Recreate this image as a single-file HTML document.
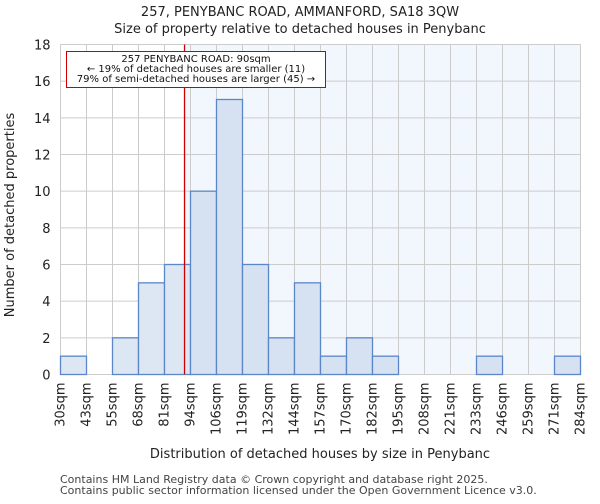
<!DOCTYPE html>
<html><head><meta charset="utf-8"><style>
body{margin:0;background:#fff;font-family:"DejaVu Sans","Liberation Sans",sans-serif;}
text{font-family:"DejaVu Sans","Liberation Sans",sans-serif;}
</style></head><body>
<svg id="chart" width="600" height="500" xmlns="http://www.w3.org/2000/svg"></svg>
<script>
const categories=["30sqm","43sqm","55sqm","68sqm","81sqm","94sqm","106sqm","119sqm","132sqm","144sqm","157sqm","170sqm","182sqm","195sqm","208sqm","221sqm","233sqm","246sqm","259sqm","271sqm","284sqm"];
const counts=[1,0,2,5,6,10,15,6,2,5,1,2,1,0,0,0,1,0,0,1];
const yTicks=[0,2,4,6,8,10,12,14,16,18];
const markerBin=4.77;
const NS="http://www.w3.org/2000/svg";
const svg=document.getElementById('chart');
const L=60.5,R=580.5,T=44.5,B=374.5,ymax=18;
const bw=(R-L)/counts.length;
const x=i=>L+i*bw;
const y=v=>B-(B-T)*v/ymax;
function el(tag,attrs,txt){const e=document.createElementNS(NS,tag);for(const k in attrs)e.setAttribute(k,attrs[k]);if(txt!==undefined)e.textContent=txt;svg.appendChild(e);return e;}
const mx=x(markerBin);
let e;
e=el('rect',{x:mx,y:T,width:R-mx,height:B-T,fill:'#f2f6fd'});


for(let i=0;i<=counts.length;i++){e=el('line',{x1:x(i),x2:x(i),y1:T,y2:B,stroke:'#cccccc','stroke-width':1});

}
yTicks.forEach(t=>{e=el('line',{x1:L,x2:R,y1:y(t),y2:y(t),stroke:'#cccccc','stroke-width':1});


e=el('text',{x:L-10,y:y(t)+5,'text-anchor':'end','font-size':13,fill:'#222'},t);

});
counts.forEach((c,i)=>{if(c<=0)return;e=el('rect',{x:x(i),y:y(c),width:bw,height:B-y(c),fill:x(i)<mx?'#dde6f3':'#d6e1f2',stroke:'#5b87c8','stroke-width':1.3});

});
categories.forEach((c,i)=>{const xx=x(i)+4;e=el('text',{x:xx,y:B+8,'text-anchor':'end','font-size':13,fill:'#222',transform:`rotate(-90 ${xx} ${B+8})`},c);

});
e=el('line',{x1:mx,x2:mx,y1:T,y2:B,stroke:'#cc0000','stroke-width':1.3});


e=el('rect',{x:66.5,y:51.5,width:259,height:36,fill:'#fff',stroke:'#cc0000','stroke-width':1});


[["257 PENYBANC ROAD: 90sqm",62],["← 19% of detached houses are smaller (11)",72],["79% of semi-detached houses are larger (45) →",82]].forEach(a=>{e=el('text',{x:196,y:a[1],'text-anchor':'middle','font-size':10,fill:'#111'},a[0]);

});
e=el('text',{x:300,y:16,'text-anchor':'middle','font-size':13,fill:'#222'},"257, PENYBANC ROAD, AMMANFORD, SA18 3QW");


e=el('text',{x:300,y:33,'text-anchor':'middle','font-size':13,fill:'#222'},"Size of property relative to detached houses in Penybanc");


e=el('text',{x:320,y:458,'text-anchor':'middle','font-size':13,fill:'#222'},"Distribution of detached houses by size in Penybanc");


e=el('text',{x:14,y:215,'text-anchor':'middle','font-size':13,fill:'#222',transform:'rotate(-90 14 215)'},"Number of detached properties");


e=el('text',{x:60,y:483,'font-size':11,fill:'#444'},"Contains HM Land Registry data © Crown copyright and database right 2025.");


e=el('text',{x:60,y:494,'font-size':11,fill:'#444'},"Contains public sector information licensed under the Open Government Licence v3.0.");


</script>
</body></html>
